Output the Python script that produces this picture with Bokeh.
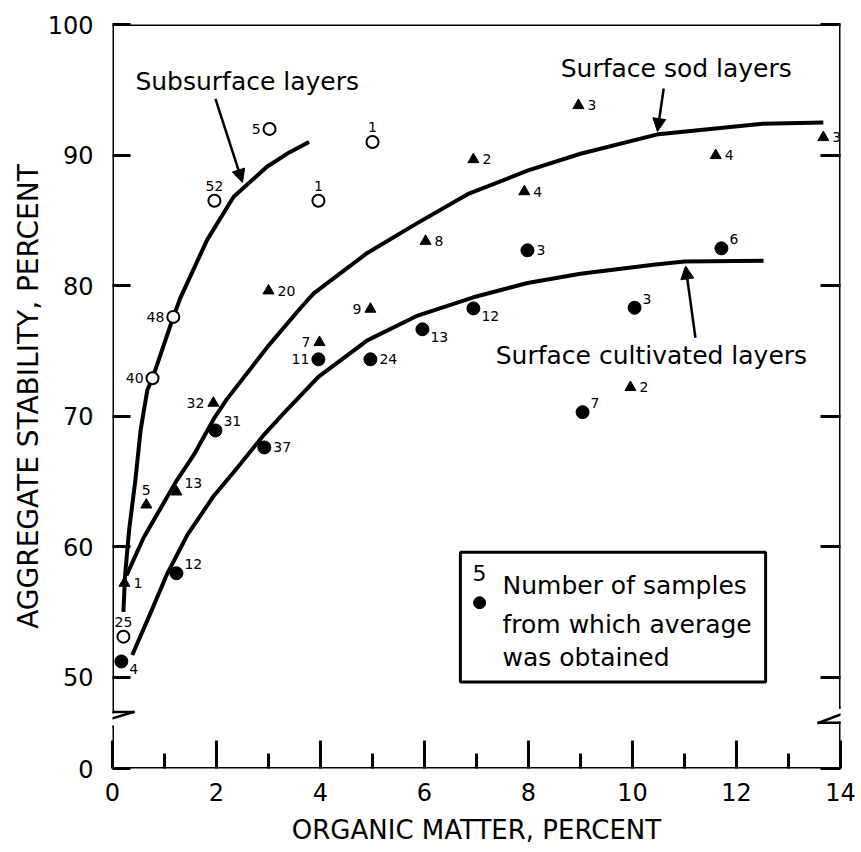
from bokeh.plotting import figure
from bokeh.models import Range1d, FixedTicker, LinearAxis, Arrow, NormalHead, ColumnDataSource
from bokeh.core.properties import value
from bokeh.embed import file_html
from bokeh.resources import INLINE

FONT = "DejaVu Sans"

# ---------------- data ----------------
# Subsurface layers (open circles)
sub_x = [0.21, 0.77, 1.17, 1.96, 3.02, 3.96, 5.00]
sub_y = [53.1, 72.9, 77.6, 86.5, 92.0, 86.5, 91.0]
sub_n = ["25", "40", "48", "52", "5", "1", "1"]
sub_pos = ["a", "l", "l", "a", "l", "a", "a"]

# Surface sod layers (triangles)
sod_x = [0.23, 0.65, 1.23, 1.94, 3.00, 3.98, 4.96, 6.02, 6.94, 7.92, 8.96, 9.96, 11.60, 13.67]
sod_y = [57.2, 63.2, 64.2, 71.0, 79.6, 75.65, 78.2, 83.4, 89.66, 87.2, 93.8, 72.2, 89.97, 91.35]
sod_n = ["1", "5", "13", "32", "20", "7", "9", "8", "2", "4", "3", "2", "4", "3"]
sod_pos = ["r", "a", "ra", "l", "r", "l", "l", "r", "r", "r", "r", "r", "r", "r"]

# Surface cultivated layers (filled circles)
cult_x = [0.17, 1.23, 1.98, 2.92, 3.96, 4.96, 5.96, 6.94, 7.98, 9.04, 10.04, 11.71]
cult_y = [51.2, 57.96, 68.9, 67.6, 74.35, 74.35, 76.65, 78.25, 82.7, 70.3, 78.3, 82.85]
cult_n = ["4", "12", "31", "37", "11", "24", "13", "12", "3", "7", "3", "6"]
cult_pos = ["rb", "ra", "ra", "r", "l", "r", "rb", "rb", "r", "ra", "ra", "ra"]

# fitted curves as drawn
sub_curve_x = [0.21, 0.24, 0.32, 0.44, 0.54, 0.67, 0.77, 1.17, 1.31, 1.82, 2.33, 2.97, 3.40, 3.78]
sub_curve_y = [55.0, 57.7, 61.3, 65.1, 68.9, 72.0, 72.9, 77.6, 79.1, 83.5, 86.8, 89.1, 90.2, 91.0]

sod_curve_x = [0.27, 0.60, 0.92, 1.24, 1.56, 1.95, 2.20, 2.98, 3.62, 3.87, 4.90, 5.87, 6.83, 7.98, 9.00, 10.50, 12.50, 13.67]
sod_curve_y = [57.8, 60.7, 62.9, 65.1, 67.0, 69.8, 71.3, 75.3, 78.3, 79.4, 82.5, 84.8, 87.0, 88.8, 90.1, 91.6, 92.4, 92.5]

cult_curve_x = [0.38, 0.73, 1.05, 1.44, 1.95, 2.33, 2.92, 3.29, 3.96, 4.90, 5.87, 6.94, 7.98, 9.00, 10.40, 11.00, 12.52]
cult_curve_y = [51.7, 54.9, 57.9, 60.9, 63.9, 65.7, 68.6, 70.2, 73.0, 75.8, 77.7, 79.1, 80.2, 80.9, 81.6, 81.85, 81.9]

# axes
x_major = [0, 2, 4, 6, 8, 10, 12, 14]
x_minor = [1, 3, 5, 7, 9, 11, 13]
y_ticks = [43, 50, 60, 70, 80, 90, 100]
y_tick_labels = {43: "0"}

# ---------------- figure ----------------
p = figure(frame_width=728, frame_height=744,
           x_range=Range1d(0, 14), y_range=Range1d(43, 100),
           output_backend="svg", toolbar_location=None,
           min_border_left=112, min_border_right=21, min_border_top=24, min_border_bottom=84)
p.outline_line_color = None
p.grid.visible = False
p.background_fill_color = "white"
p.border_fill_color = "white"

xa = p.xaxis[0]
xa.ticker = FixedTicker(ticks=x_major, minor_ticks=x_minor)
xa.axis_line_color = None
xa.major_tick_in = 28
xa.major_tick_out = 0
xa.minor_tick_in = 15
xa.minor_tick_out = 0
xa.major_tick_line_width = 3
xa.minor_tick_line_width = 3
xa.major_label_text_font = FONT
xa.major_label_text_font_size = "24px"
xa.major_label_text_color = "black"
xa.major_label_standoff = 14
xa.axis_label = "ORGANIC MATTER, PERCENT"
xa.axis_label_text_font = FONT
xa.axis_label_text_font_size = "26px"
xa.axis_label_text_font_style = "normal"
xa.axis_label_text_color = "black"
xa.axis_label_standoff = 11

ya = p.yaxis[0]
ya.ticker = FixedTicker(ticks=y_ticks, minor_ticks=[])
ya.major_label_overrides = y_tick_labels
ya.axis_line_color = None
ya.major_tick_in = 18
ya.major_tick_out = 0
ya.minor_tick_line_color = None
ya.major_tick_line_width = 3
ya.major_label_text_font = FONT
ya.major_label_text_font_size = "24px"
ya.major_label_text_color = "black"
ya.major_label_standoff = 19
ya.axis_label = "AGGREGATE STABILITY, PERCENT"
ya.axis_label_text_font = FONT
ya.axis_label_text_font_size = "28px"
ya.axis_label_text_font_style = "normal"
ya.axis_label_text_color = "black"
ya.axis_label_standoff = 0

ra = LinearAxis(ticker=FixedTicker(ticks=y_ticks, minor_ticks=[]),
                major_label_overrides={t: "" for t in y_ticks},
                axis_line_color=None, major_tick_in=20, major_tick_out=0,
                major_tick_line_width=3, minor_tick_line_color=None,
                major_label_standoff=0)
p.add_layout(ra, "right")

# ---------------- frame lines with breaks ----------------
def seg(x0, y0, x1, y1, w=3):
    p.add_layout(Arrow(end=None, x_start=x0, y_start=y0, x_end=x1, y_end=y1,
                       line_width=w, line_color="black", line_cap="square"))

seg(0, 100, 14, 100)
seg(0, 43, 14, 43)
# left axis with break
seg(0, 100, 0, 47.32)
seg(0, 47.32, 0.40, 47.32, 2.5)
seg(0.40, 47.32, -0.56, 46.17, 2.5)
seg(-0.56, 46.17, 0, 46.17, 2.5)
seg(0, 46.17, 0, 43)
# right axis with break
seg(14, 100, 14, 47.7)
seg(14, 47.7, 14.38, 47.7, 2.5)
seg(14.38, 47.7, 13.58, 46.5, 2.5)
seg(13.58, 46.5, 14, 46.5, 2.5)
seg(14, 46.5, 14, 43)

# ---------------- curves ----------------
p.line(sub_curve_x, sub_curve_y, line_width=4, line_color="black", line_join="round")
p.line(sod_curve_x, sod_curve_y, line_width=4, line_color="black", line_join="round")
p.line(cult_curve_x, cult_curve_y, line_width=4, line_color="black", line_join="round")

# ---------------- points ----------------
p.scatter(sub_x, sub_y, marker="circle", size=12, fill_color="white", line_color="black", line_width=2)
p.scatter(sod_x, sod_y, marker="triangle", size=11, fill_color="black", line_color="black")
p.scatter(cult_x, cult_y, marker="circle", size=13, fill_color="black", line_color="black")

OFF = {"r": (9, 0, "left"), "l": (-9, 0, "right"), "a": (0, -15, "center"),
       "ra": (8, -9, "left"), "rb": (8, 8, "left")}

def labels(xs, ys, ns, pos):
    src = ColumnDataSource(dict(x=xs, y=ys, t=ns,
                                dx=[OFF[k][0] for k in pos],
                                dy=[OFF[k][1] for k in pos],
                                al=[OFF[k][2] for k in pos]))
    p.text(x="x", y="y", text="t", x_offset="dx", y_offset="dy", text_align="al",
           text_baseline="middle", text_font=value(FONT), text_font_size="14px",
           text_color="black", source=src)

labels(sub_x, sub_y, sub_n, sub_pos)
labels(sod_x, sod_y, sod_n, sod_pos)
labels(cult_x, cult_y, cult_n, cult_pos)

# ---------------- curve labels and arrows ----------------
def note(x, y, s, size="25px"):
    p.text(x=[x], y=[y], text=[s], text_font=value(FONT), text_font_size=size,
           text_baseline="middle", text_align="left", text_color="black")

note(0.44, 95.6, "Subsurface layers")
note(8.62, 96.6, "Surface sod layers")
note(7.37, 74.65, "Surface cultivated layers")

def pointer(x0, y0, x1, y1):
    p.add_layout(Arrow(end=NormalHead(size=13, fill_color="black", line_color="black", line_width=1),
                       x_start=x0, y_start=y0, x_end=x1, y_end=y1,
                       line_width=2.5, line_color="black"))

pointer(1.98, 94.3, 2.50, 87.9)
pointer(10.60, 95.1, 10.48, 91.8)
pointer(11.21, 76.0, 11.02, 81.5)

# ---------------- legend box ----------------
p.quad(left=[6.69], right=[12.56], bottom=[49.62], top=[59.57],
       fill_color="white", line_color="black", line_width=3)
p.text(x=[7.06], y=[58.0], text=["5"], text_font=value(FONT), text_font_size="22px",
       text_baseline="middle", text_align="center", text_color="black")
p.scatter([7.06], [55.7], marker="circle", size=12, fill_color="black", line_color="black")
note(7.50, 57.05, "Number of samples")
note(7.50, 54.05, "from which average")
note(7.50, 51.5, "was obtained")

open("out.html", "w").write(file_html(p, INLINE))
